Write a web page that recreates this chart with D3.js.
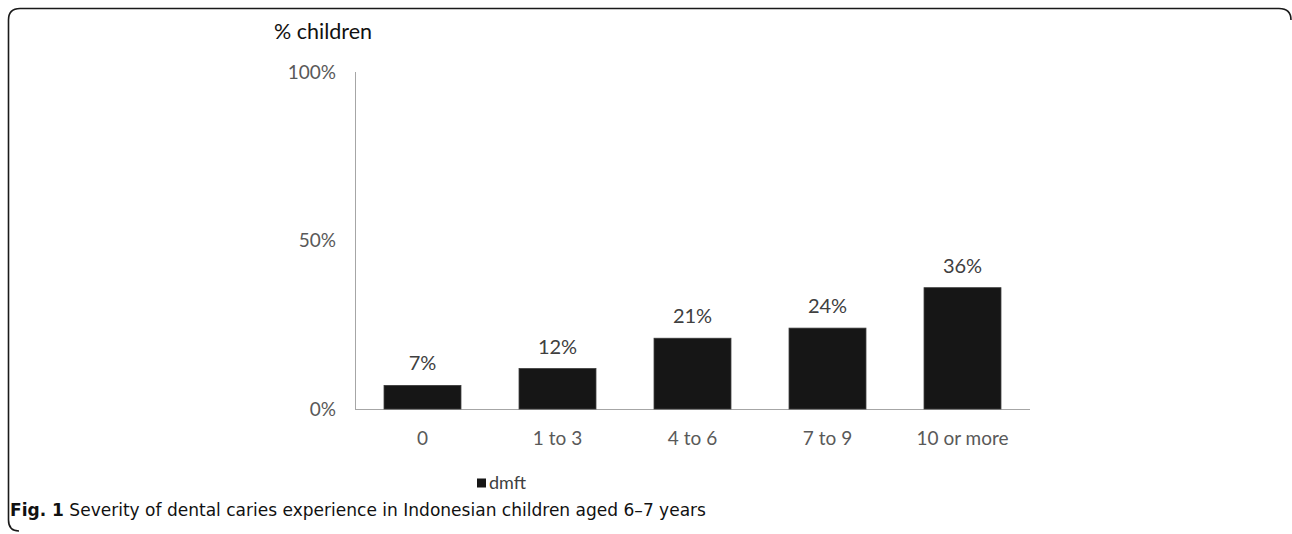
<!DOCTYPE html>
<html><head><meta charset="utf-8">
<script src="https://cdn.jsdelivr.net/npm/d3@7"></script>
<style>
html,body{margin:0;padding:0;background:#fff;}
svg{display:block;}
</style></head>
<body>
<svg id="c" width="1292" height="534"></svg>
<script>
const categories = ["0", "1 to 3", "4 to 6", "7 to 9", "10 or more"];
const values = [7, 12, 21, 24, 36];
const yTicks = [0, 50, 100];
const seriesName = "dmft";
const yTitle = "% children";
const caption = "Severity of dental caries experience in Indonesian children aged 6\u20137 years";

const svg = d3.select("#c");
const font = "Lato, 'Open Sans', sans-serif";

// frame
svg.append("path")
  .attr("d", "M1291,20 Q1291,8.5 1279,8.5 L20,8.5 Q8.5,8.5 8.5,20 L8.5,520 Q8.5,531 19,531")
  .attr("fill", "none").attr("stroke", "#1a1a1a").attr("stroke-width", 1.6);

const x = d3.scaleBand().domain(categories).range([355, 1030]).paddingInner(0.43).paddingOuter(0.215);
const y = d3.scaleLinear().domain([0, 100]).range([409, 72]);

// y axis line
svg.append("line").attr("x1", 355.5).attr("x2", 355.5).attr("y1", y(100)).attr("y2", y(0))
  .attr("stroke", "#a6a6a6").attr("stroke-width", 1);
// x axis line
svg.append("line").attr("x1", 355).attr("x2", 1030).attr("y1", y(0) + 0.5).attr("y2", y(0) + 0.5)
  .attr("stroke", "#a6a6a6").attr("stroke-width", 1.2);

// y tick labels
svg.selectAll(".yt").data(yTicks).enter().append("text")
  .attr("x", 336).attr("y", d => y(d)).attr("dy", "0.35em")
  .attr("text-anchor", "end").attr("font-family", font).attr("font-size", 19)
  .attr("fill", "#595959").text(d => d + "%");

// y title
svg.append("text").attr("x", 274).attr("y", 39).attr("font-family", font).attr("font-size", 21.5)
  .attr("fill", "#111").text(yTitle);

// bars
svg.selectAll(".bar").data(values).enter().append("rect")
  .attr("x", (d, i) => x(categories[i])).attr("width", x.bandwidth())
  .attr("y", d => y(d)).attr("height", d => y(0) - y(d))
  .attr("fill", "#161616").attr("stroke", "#3a3a3a").attr("stroke-width", 0.8);

// data labels
svg.selectAll(".dl").data(values).enter().append("text")
  .attr("x", (d, i) => x(categories[i]) + x.bandwidth() / 2).attr("y", d => y(d) - 15)
  .attr("text-anchor", "middle").attr("font-family", font).attr("font-size", 20)
  .attr("fill", "#404040").text(d => d + "%");

// category labels
svg.selectAll(".cl").data(categories).enter().append("text")
  .attr("x", d => x(d) + x.bandwidth() / 2).attr("y", 438).attr("dy", "0.35em")
  .attr("text-anchor", "middle").attr("font-family", font).attr("font-size", 19)
  .attr("fill", "#595959").text(d => d);

// legend
svg.append("rect").attr("x", 477).attr("y", 478.5).attr("width", 9).attr("height", 9).attr("fill", "#161616");
svg.append("text").attr("x", 489).attr("y", 483).attr("dy", "0.35em").attr("font-family", font)
  .attr("font-size", 18).attr("fill", "#404040").text(seriesName);

// caption
const cap = svg.append("text").attr("x", 10).attr("y", 516)
  .attr("font-family", "'DejaVu Sans Condensed', 'Liberation Sans Narrow', sans-serif")
  .attr("font-size", 17).attr("fill", "#111")
  .attr("textLength", 696).attr("lengthAdjust", "spacingAndGlyphs");
cap.append("tspan").attr("font-weight", "bold").text("Fig. 1");
cap.append("tspan").text(" " + caption);
</script>
</body></html>
